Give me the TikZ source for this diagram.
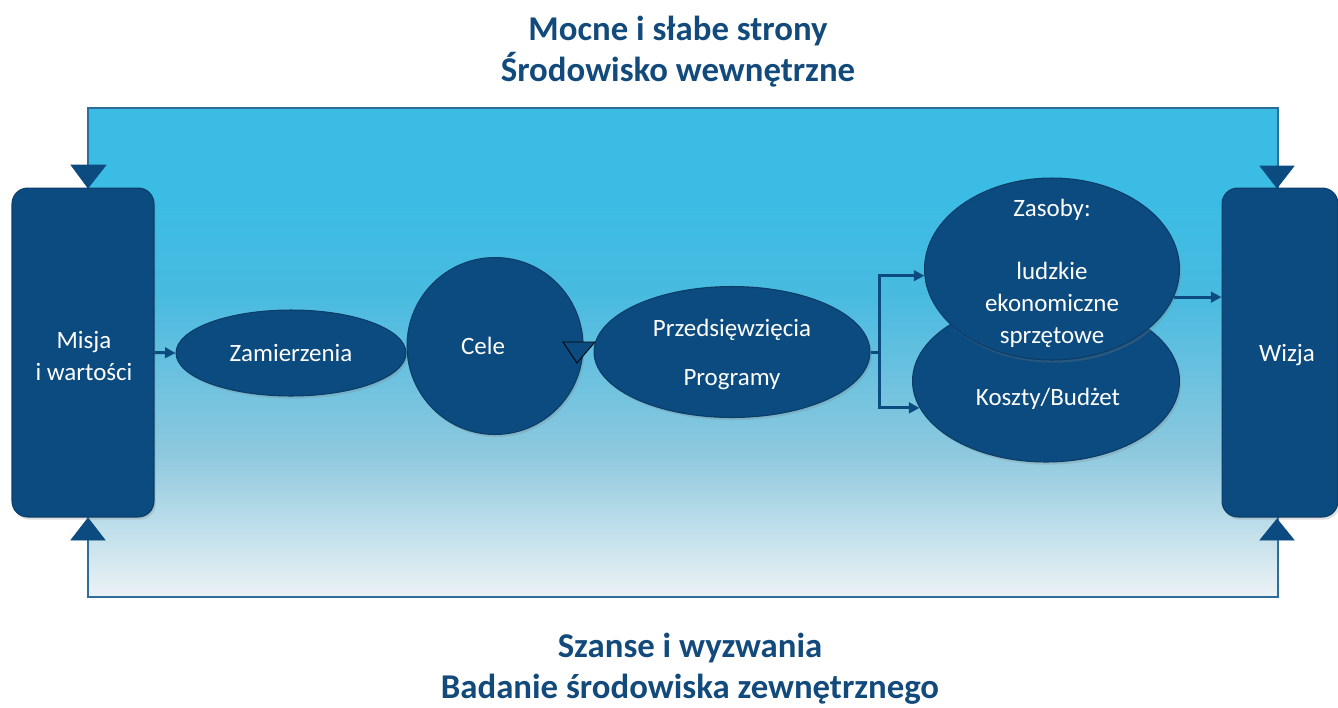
\documentclass[tikz,border=0pt]{standalone}
\usepackage{fontspec}
\setmainfont{Carlito}
\usetikzlibrary{arrows.meta,shapes.geometric,calc,shadows}
\definecolor{nodeblue}{HTML}{0C4B7F}
\definecolor{nodeedge}{HTML}{0A3D68}
\definecolor{titleblue}{HTML}{134A7C}
\definecolor{framecol}{HTML}{2C6E99}
\definecolor{bgtop}{RGB}{59,188,228}
\definecolor{bgmtwo}{RGB}{72,186,224}
\definecolor{bgmone}{RGB}{140,200,222}
\definecolor{bgbot}{RGB}{236,242,245}
\pgfdeclareverticalshading{bgshade}{100bp}{color(0bp)=(bgbot); color(25bp)=(bgbot); color(40bp)=(bgmone); color(56bp)=(bgmtwo); color(66bp)=(bgtop); color(100bp)=(bgtop)}
\tikzset{
  shapebase/.style={fill=nodeblue, draw=nodeedge, line width=0.6pt, inner sep=0pt, text=white,
     font=\fontsize{14.2}{18.1}\selectfont, drop shadow={opacity=0.25, shadow xshift=1pt, shadow yshift=-1.5pt}},
  bluebox/.style={shapebase, rectangle, rounded corners=9pt, align=center},
  oval/.style={shapebase, ellipse},
  txt/.style={text=white, font=\fontsize{14.2}{18.1}\selectfont, align=center, inner sep=0pt},
  title/.style={text=titleblue, font=\fontsize{19.8}{23.3}\selectfont\bfseries, align=center, inner sep=0pt},
  conn/.style={draw=nodeblue, line width=1.7pt, -{Triangle[length=6pt,width=6pt]}},
  plain/.style={draw=nodeblue, line width=1.7pt},
  tri/.style={fill=nodeblue, draw=nodeblue, line width=0.4pt},
}
\begin{document}
\begin{tikzpicture}[x=0.02cm, y=-0.02cm]
\useasboundingbox (0,0) rectangle (1338,707);
% background frame
\shade[shading=bgshade] (88,108) rectangle (1278,597);
\draw[framecol, line width=1.2pt] (88,108) rectangle (1278,597);
% frame arrow heads
\fill[tri] (71,165) -- (106,165) -- (88,188) -- cycle;
\fill[tri] (71,540) -- (105,540) -- (88,518) -- cycle;
\fill[tri] (1260,166) -- (1294,166) -- (1277,188) -- cycle;
\fill[tri] (1260,540) -- (1294,540) -- (1277,519) -- cycle;
% titles
\node[title] (t1) at (678,52) {Mocne i słabe strony\\Środowisko wewnętrzne};
\node[title] (t2) at (690,669) {Szanse i wyzwania\\Badanie środowiska zewnętrznego};
% nodes
\node[bluebox, minimum width=2.84cm, minimum height=6.58cm] (misja) at (83,352.5) {};
\node[txt] (misjat) at (84,356) {Misja\\i wartości};
\node[bluebox, minimum width=2.32cm, minimum height=6.58cm] (wizja) at (1280,352.5) {};
\node[txt] (wizjat) at (1287,355) {Wizja};
\node[oval, minimum width=4.6cm, minimum height=1.72cm] (zam) at (291,353) {Zamierzenia};
\node[oval, minimum width=3.52cm, minimum height=3.54cm] (cele) at (495,346) {};
\node[txt] (celet) at (483,346) {Cele};
\node[oval, minimum width=5.52cm, minimum height=2.62cm] (prz) at (732,352) {};
\node[txt] (przt1) at (732,330) {Przedsięwzięcia};
\node[txt] (przt2) at (732,380) {Programy};
\node[oval, minimum width=5.34cm, minimum height=3.24cm] (kos) at (1046,381) {};
\node[txt] (kost) at (1048,399) {Koszty/Budżet};
\node[oval, minimum width=5.1cm, minimum height=3.64cm] (zas) at (1052,269) {};
\node[txt] (zast) at (1052,273) {Zasoby:\\[18.1pt]ludzkie\\ekonomiczne\\sprzętowe};
% connectors
\draw[conn] (misja.east) -- (zam.west);
\draw[plain] (prz.east) -- ++(9,0) coordinate (split);
\draw[conn] (split) |- (zas.183);
\draw[conn] (split) |- (kos.192);
\draw[conn] (zas.-13) -- (zas.-13 -| wizja.west);
% small arrow head between Cele and Przedsiewziecia
\coordinate (ah1) at (563,342);
\coordinate (ah2) at (595,342);
\coordinate (ah3) at (577,363);
\filldraw[fill=nodeblue, draw=black, line width=0.5pt] (ah1) -- (ah2) -- (ah3) -- cycle;
\end{tikzpicture}
\end{document}
